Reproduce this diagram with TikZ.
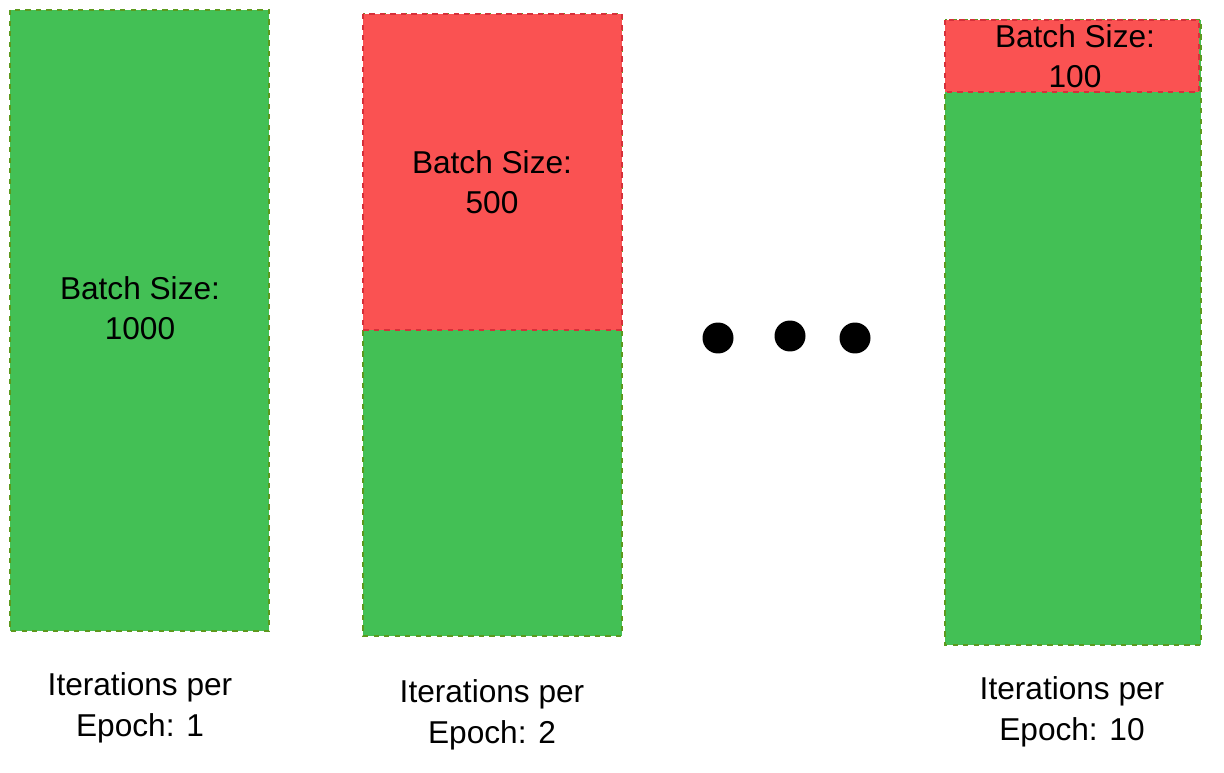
\documentclass[tikz,border=0pt]{standalone}
\usepackage{fontspec}
\setmainfont{Liberation Sans}
\definecolor{barGreen}{HTML}{43C055}
\definecolor{barRed}{HTML}{FA5252}
\definecolor{edgeGreen}{HTML}{5C9A1E}
\definecolor{edgeRed}{HTML}{D6303A}
\tikzset{
  greenbar/.style={fill=barGreen, draw=edgeGreen, dashed, line width=1.4pt},
  redbar/.style={fill=barRed, draw=edgeRed, dashed, line width=1.4pt},
  caption/.style={align=center, font=\fontsize{18}{23}\selectfont},
  blob/.style={circle, fill=black, minimum size=0.62cm, inner sep=0pt}
}
\begin{document}
\begin{tikzpicture}[x=0.02cm, y=-0.02cm]
\useasboundingbox (0,0) rectangle (1224,773);
% epoch 1
\draw[greenbar] (10,10) rectangle (269,631);
\node[caption] (bs1) at (140,308) {Batch Size:\\1000};
\node[caption] (it1) at (140,708) {Iterations per\\Epoch: 1};
% epoch 2
\draw[greenbar] (363,14) rectangle (622,636);
\draw[redbar] (363,14) rectangle (622,330);
\node[caption] (bs2) at (492,182) {Batch Size:\\500};
\node[caption] (it2) at (492,715) {Iterations per\\Epoch: 2};
% dots
\node[blob] (d1) at (718,338) {};
\node[blob] (d2) at (790,336) {};
\node[blob] (d3) at (855,338) {};
% epoch 10
\draw[greenbar] (945,20) rectangle (1201,645);
\draw[redbar] (945,20) rectangle (1199,92);
\node[caption] (bs3) at (1075,56) {Batch Size:\\100};
\node[caption] (it3) at (1072,712) {Iterations per\\Epoch: 10};
\end{tikzpicture}
\end{document}
